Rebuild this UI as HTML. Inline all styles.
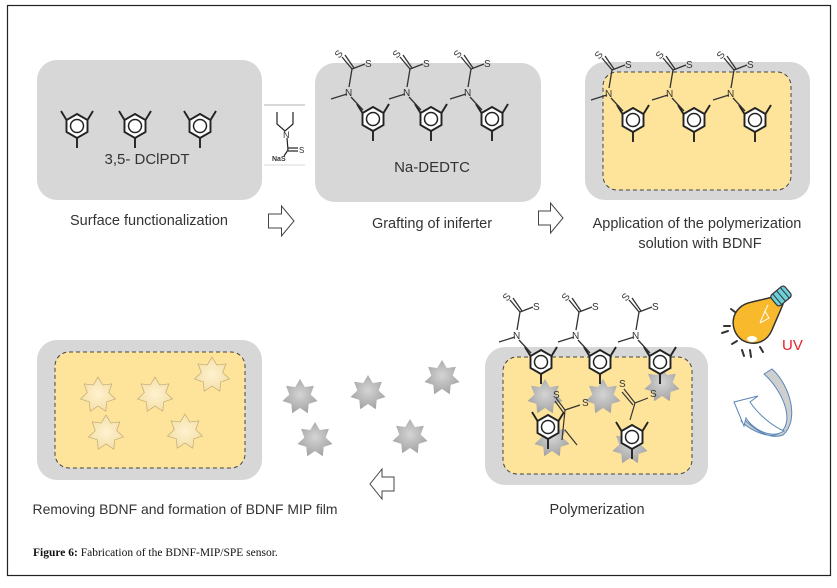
<!DOCTYPE html>
<html><head><meta charset="utf-8"><style>
html,body{margin:0;padding:0;background:#fff;}
svg{display:block;}
text{font-family:"Liberation Sans",sans-serif;fill:#333;}
</style></head><body>
<svg width="837" height="588" viewBox="0 0 837 588" xmlns="http://www.w3.org/2000/svg">
<defs>
<g id="ring">
<polygon points="0,-12 10.5,-6 10.5,6 0,12 -10.5,6 -10.5,-6" fill="#fff" stroke="#222" stroke-width="1.9"/>
<circle r="6.5" fill="none" stroke="#222" stroke-width="1.5"/>
<line x1="10.5" y1="-6" x2="16" y2="-15" stroke="#222" stroke-width="1.9"/>
<line x1="-10.5" y1="-6" x2="-16" y2="-15" stroke="#222" stroke-width="1.9"/>
<line x1="0" y1="12" x2="0" y2="22" stroke="#222" stroke-width="1.9"/>
</g>
<g id="chain" stroke="#333" stroke-width="1.3" fill="none">
<line x1="-10" y1="-9" x2="-22" y2="-22"/>
<line x1="-26" y1="-25" x2="-42" y2="-20"/>
<line x1="-24" y1="-32" x2="-21" y2="-50"/>
<line x1="-21" y1="-50" x2="-31" y2="-62"/>
<line x1="-19" y1="-51" x2="-28" y2="-64"/>
<line x1="-21" y1="-50" x2="-8" y2="-55"/>
</g>
<g id="chaintext">
<text x="-28" y="-23" font-size="10" fill="#333">N</text>
<text x="-38" y="-63" font-size="10" transform="rotate(-50 -33 -66)">S</text>
<text x="-8" y="-52" font-size="10">S</text>
</g>
<radialGradient id="sg" cx="50%" cy="45%" r="60%"><stop offset="0" stop-color="#d4d4d4"/><stop offset="1" stop-color="#a0a0a0"/></radialGradient>
<radialGradient id="pg" cx="50%" cy="50%" r="60%"><stop offset="0" stop-color="#fff2d0"/><stop offset="1" stop-color="#f2dca2"/></radialGradient>
<polygon id="star" points="0,-18 4.8,-10 13.9,-11.2 10.7,-2.4 17.5,4 8.7,6.9 7.8,16.2 0,11 -7.8,16.2 -8.7,6.9 -17.5,4 -10.7,-2.4 -13.9,-11.2 -4.8,-10"/>
</defs>

<rect x="7.5" y="5.5" width="823" height="570" fill="#fff" stroke="#222" stroke-width="1.2"/>

<!-- Box 1 -->
<rect x="37" y="60" width="225" height="140" rx="20" fill="#d7d7d7"/>
<use href="#ring" x="77" y="126"/>
<use href="#ring" x="135" y="126"/>
<use href="#ring" x="200" y="126"/>
<text x="147" y="164" font-size="15" text-anchor="middle">3,5- DClPDT</text>
<text x="149" y="225" font-size="14.5" text-anchor="middle">Surface functionalization</text>

<!-- reagent -->
<line x1="264" y1="105" x2="305" y2="105" stroke="#999" stroke-width="0.8"/>
<line x1="264" y1="165" x2="305" y2="165" stroke="#ccc" stroke-width="0.8"/>
<g stroke="#222" stroke-width="1.2" fill="none">
<polyline points="277,112 277,124 285,131 293,124 293,112"/>
<line x1="287" y1="138" x2="288" y2="150"/>
<line x1="288" y1="148" x2="298" y2="148"/><line x1="288" y1="151" x2="298" y2="151"/>
<line x1="288" y1="150" x2="284" y2="156"/>
</g>
<text x="283" y="138" font-size="9" fill="#222">N</text>
<text x="299" y="153" font-size="8" fill="#222">S</text>
<text x="272" y="161" font-size="7" fill="#222" font-weight="bold">NaS</text>

<polygon points="268.5,214 281.5,214 281.5,206 294,221 281.5,236 281.5,228 268.5,228" fill="#fff" stroke="#444" stroke-width="1"/>

<!-- Box 2 -->
<rect x="315" y="63" width="226" height="139" rx="20" fill="#d7d7d7"/>
<use href="#ring" x="373" y="119"/><use href="#chain" x="373" y="119"/><use href="#chaintext" x="373" y="119"/>
<use href="#ring" x="431" y="119"/><use href="#chain" x="431" y="119"/><use href="#chaintext" x="431" y="119"/>
<use href="#ring" x="492" y="119"/><use href="#chain" x="492" y="119"/><use href="#chaintext" x="492" y="119"/>
<text x="432" y="172" font-size="15" text-anchor="middle">Na-DEDTC</text>
<text x="432" y="228" font-size="14.5" text-anchor="middle">Grafting of iniferter</text>

<polygon points="538.5,211 550.5,211 550.5,203 563,218 550.5,233 550.5,225 538.5,225" fill="#fff" stroke="#444" stroke-width="1"/>

<!-- Box 3 -->
<rect x="585" y="62" width="225" height="138" rx="20" fill="#d7d7d7"/>
<rect x="603" y="72" width="188" height="118" rx="14" fill="#fde49a" stroke="#444" stroke-width="1" stroke-dasharray="4,3"/>
<use href="#ring" x="633" y="120"/><use href="#chain" x="633" y="120"/><use href="#chaintext" x="633" y="120"/>
<use href="#ring" x="694" y="120"/><use href="#chain" x="694" y="120"/><use href="#chaintext" x="694" y="120"/>
<use href="#ring" x="755" y="120"/><use href="#chain" x="755" y="120"/><use href="#chaintext" x="755" y="120"/>
<text x="697" y="228" font-size="14.5" text-anchor="middle">Application of the polymerization</text>
<text x="700" y="248" font-size="14.5" text-anchor="middle">solution with BDNF</text>

<!-- Box 4 -->
<rect x="485" y="347" width="223" height="138" rx="20" fill="#d7d7d7"/>
<rect x="503" y="357" width="189" height="117" rx="14" fill="#fde49a" stroke="#444" stroke-width="1" stroke-dasharray="4,3"/>
<g fill="url(#sg)">
<use href="#star" x="545" y="397"/><use href="#star" x="603" y="397"/><use href="#star" x="662" y="385"/>
<use href="#star" x="552" y="440"/><use href="#star" x="630" y="447"/>
</g>
<use href="#ring" x="541" y="362"/><use href="#chain" x="541" y="362"/><use href="#chaintext" x="541" y="362"/>
<use href="#ring" x="600" y="362"/><use href="#chain" x="600" y="362"/><use href="#chaintext" x="600" y="362"/>
<use href="#ring" x="660" y="362"/><use href="#chain" x="660" y="362"/><use href="#chaintext" x="660" y="362"/>
<use href="#ring" x="548" y="427"/>
<use href="#ring" x="632" y="437"/>
<g stroke="#333" stroke-width="1.2" fill="none">
<line x1="565" y1="410" x2="580" y2="405"/><line x1="565" y1="410" x2="556" y2="398"/><line x1="563" y1="412" x2="555" y2="401"/>
<line x1="565" y1="410" x2="562" y2="440"/><line x1="565" y1="430" x2="577" y2="445"/>
<line x1="635" y1="403" x2="648" y2="398"/><line x1="635" y1="403" x2="624" y2="389"/><line x1="633" y1="405" x2="622" y2="392"/>
<line x1="635" y1="403" x2="630" y2="420"/>
</g>
<text x="553" y="398" font-size="10" fill="#333">S</text><text x="582" y="406" font-size="10" fill="#333">S</text>
<text x="619" y="387" font-size="10" fill="#333">S</text><text x="650" y="397" font-size="10" fill="#333">S</text>
<text x="597" y="514" font-size="14.5" text-anchor="middle">Polymerization</text>

<!-- Bulb & UV -->
<g stroke="#333" stroke-width="2" stroke-linecap="round">
<line x1="731" y1="309" x2="735" y2="312"/><line x1="724" y1="326" x2="730" y2="326"/><line x1="722" y1="333" x2="728" y2="331"/>
<line x1="732" y1="344" x2="737" y2="341"/><line x1="742" y1="350" x2="744" y2="356"/><line x1="750" y1="350" x2="751" y2="357"/><line x1="760" y1="347" x2="763" y2="352"/>
</g>
<path d="M742,340 C728,330 730,306 752,302 C760,300 770,298 776,296 L783,304 C780,312 776,320 772,330 C766,344 752,346 742,340 Z" fill="#f9b92d" stroke="#333" stroke-width="1.5"/>
<g transform="rotate(-40 781 296)"><rect x="772" y="289" width="18" height="14" rx="3" fill="#6cd0d8" stroke="#333" stroke-width="1.2"/>
<line x1="776" y1="289" x2="776" y2="303" stroke="#333"/><line x1="781" y1="289" x2="781" y2="303" stroke="#333"/><line x1="786" y1="289" x2="786" y2="303" stroke="#333"/></g>
<ellipse cx="752" cy="339" rx="5" ry="3" fill="#fff"/>
<path d="M760,323 L765,311 L769,318 L760,323 M765,311 L768,305" stroke="#fff" stroke-width="1" fill="none"/>
<text x="782" y="350" font-size="15" style="fill:#e8202a">UV</text>
<path d="M764,374 L772,369 C790,385 800,420 783,435 C770,440 755,430 745,420 L741,421 C752,432 772,440 781,432 C795,420 782,390 764,374 Z" fill="#cfcfcf" stroke="#5a86b8" stroke-width="1"/>
<path d="M784,431 C770,440 752,428 746,418 L744,426 L734,402 L758,396 L750,402 C758,414 772,426 784,431 Z" fill="#fff" stroke="#5a86b8" stroke-width="1"/>

<!-- free stars -->
<g fill="url(#sg)">
<use href="#star" x="300" y="397"/><use href="#star" x="368" y="393"/><use href="#star" x="442" y="378"/>
<use href="#star" x="315" y="440"/><use href="#star" x="410" y="437"/>
</g>
<polygon points="394,477 382,477 382,469 370,484 382,499 382,491 394,491" fill="#fff" stroke="#444" stroke-width="1"/>

<!-- Box 5 -->
<rect x="37" y="340" width="225" height="140" rx="20" fill="#d7d7d7"/>
<rect x="55" y="352" width="190" height="116" rx="14" fill="#fde49a" stroke="#444" stroke-width="1" stroke-dasharray="4,3"/>
<g fill="url(#pg)" stroke="#b9a26e" stroke-width="0.6">
<use href="#star" x="98" y="395"/><use href="#star" x="155" y="395"/><use href="#star" x="212" y="375"/>
<use href="#star" x="106" y="433"/><use href="#star" x="185" y="432"/>
</g>
<text x="185" y="514" font-size="14" text-anchor="middle" textLength="305" lengthAdjust="spacingAndGlyphs">Removing BDNF and formation of BDNF MIP film</text>

<text x="33" y="556" font-size="11.5" style="font-family:'Liberation Serif',serif;fill:#111"><tspan font-weight="bold">Figure 6:</tspan> Fabrication of the BDNF-MIP/SPE sensor.</text>
</svg>
</body></html>
